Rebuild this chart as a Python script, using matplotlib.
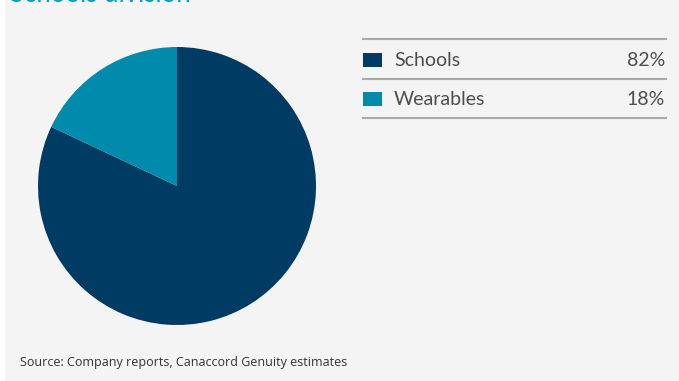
import matplotlib
matplotlib.use("Agg")
import matplotlib.pyplot as plt
from matplotlib.patches import Rectangle
from matplotlib.lines import Line2D

categories = ["Schools", "Wearables"]
values = [82, 18]
colors = ["#003b64", "#008bad"]
title = "Schools division"
source = "Source: Company reports, Canaccord Genuity estimates"

W, H = 679, 381
fig = plt.figure(figsize=(W / 100, H / 100), dpi=100)
fig.patch.set_facecolor("white")

def fx(px):
    return px / W

def fy(py):
    return 1 - py / H

# grey panel
fig.patches.append(Rectangle((fx(5), 0), 1 - fx(5), 1, transform=fig.transFigure,
                             facecolor="#f4f4f4", edgecolor="none", zorder=-5))

# title (mostly cut off at top, as in the reference)
fig.text(fx(10), fy(2), title, color="#0a9cc8", fontsize=18.5, family="Lato",
         ha="left", va="baseline")

# pie
cx, cy, r = 177, 186, 139
ax = fig.add_axes([fx(cx - r), fy(cy + r), 2 * r / W, 2 * r / H])
ax.set_zorder(2)
ax.pie(values, colors=colors, startangle=90, counterclock=False, radius=1,
       wedgeprops=dict(linewidth=0))
ax.set_xlim(-1, 1)
ax.set_ylim(-1, 1)
ax.set_aspect("equal")
ax.axis("off")

# legend table
x0, x1 = 363, 666
line_ys = [39, 79, 118]
for y in line_ys:
    fig.add_artist(Line2D([fx(x0), fx(x1)], [fy(y), fy(y)], transform=fig.transFigure,
                          color="#aaaaaa", linewidth=1.5))
baselines = [66, 105]
sq_tops = [53, 92]
for cat, val, col, bl, st in zip(categories, values, colors, baselines, sq_tops):
    fig.patches.append(Rectangle((fx(363), fy(st + 14)), 19 / W, 14 / H,
                                 transform=fig.transFigure, facecolor=col, edgecolor="none"))
    fig.text(fx(394), fy(bl), cat, color="#4d4d4d", fontsize=14, family="Lato",
             ha="left", va="baseline")
    fig.text(fx(665), fy(bl), f"{val}%", color="#4d4d4d", fontsize=14, family="Lato",
             ha="right", va="baseline")

fig.text(fx(20), fy(366), source, color="#333333", fontsize=9, family="Open Sans",
         ha="left", va="baseline")

fig.savefig("out.png", dpi=100, facecolor=fig.get_facecolor())
